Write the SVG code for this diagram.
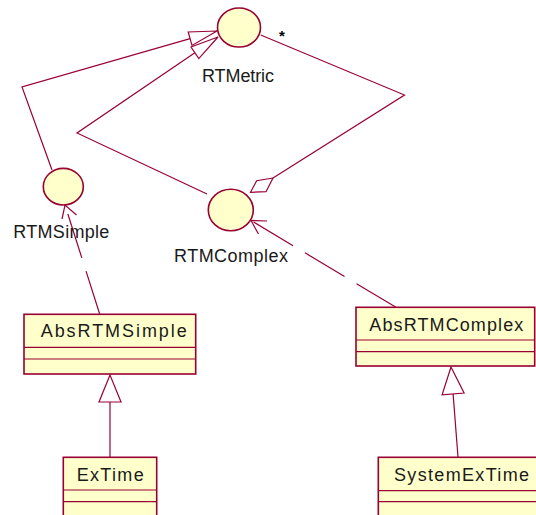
<svg xmlns="http://www.w3.org/2000/svg" width="536" height="515" viewBox="0 0 536 515">
<style>
.ln{fill:none;stroke:#990033;stroke-width:1.2}
.dash{fill:none;stroke:#990033;stroke-width:1.2;stroke-dasharray:46 14}
.hollow{fill:#ffffff;stroke:#990033;stroke-width:1.2}
.iface{fill:#ffffcc;stroke:#990033;stroke-width:1.6}
.box{fill:#ffffcc;stroke:#990033;stroke-width:1.6}
.sep{stroke:#990033;stroke-width:1.2}
.t{font-family:"Liberation Sans",Arial,sans-serif;font-size:18px;fill:#1a1a1a}
.m{font-family:"Liberation Sans",Arial,sans-serif;font-size:15px;font-weight:bold;fill:#000000}
</style>
<rect width="536" height="515" fill="#ffffff"/>
<g id="connectors">
  <polyline class="ln" points="52,170 22,87 190.1,38.7"/>
  <polygon class="hollow" points="217,31 188.2,32 192,45.4"/>
  <polyline class="ln" points="207,194 77,133 194.9,52.8"/>
  <polygon class="hollow" points="218,37 191,47 198.8,58.6"/>
  <polyline class="ln" points="260.7,35 404.5,95 273,178"/>
  <polygon class="hollow" points="273,178 256.7,180.7 250.5,192.3 266,191.7"/>
  <text class="m" x="279" y="41">*</text>
  <line class="dash" x1="100" y1="315" x2="65" y2="205"/>
  <polyline class="ln" points="62,219 65,205 76.5,215"/>
  <line class="dash" x1="396" y1="307.3" x2="251" y2="220.5"/>
  <polyline class="ln" points="258.5,234 251,220.5 267,221"/>
  <line class="ln" x1="110" y1="402" x2="110" y2="457"/>
  <polygon class="hollow" points="110,375 99,402 121,402"/>
  <line class="ln" x1="453.1" y1="393.9" x2="458" y2="457"/>
  <polygon class="hollow" points="451,367 442.1,394.8 464.1,393"/>
</g>
<g id="RTMetric">
  <ellipse class="iface" cx="239" cy="27.5" rx="21.5" ry="19.5"/>
  <text class="t" x="202" y="82" textLength="72" lengthAdjust="spacing">RTMetric</text>
</g>
<g id="RTMSimple">
  <ellipse class="iface" cx="63.3" cy="186.7" rx="20" ry="18.3"/>
  <text class="t" x="13.3" y="237.5" textLength="96" lengthAdjust="spacing">RTMSimple</text>
</g>
<g id="RTMComplex">
  <ellipse class="iface" cx="230.8" cy="210" rx="22.5" ry="20.8"/>
  <text class="t" x="174" y="262" textLength="114" lengthAdjust="spacing">RTMComplex</text>
</g>
<g id="AbsRTMSimple">
  <rect class="box" x="24" y="314.3" width="171.7" height="59.7"/>
  <line class="sep" x1="24" y1="347.3" x2="195.7" y2="347.3"/>
  <line class="sep" x1="24" y1="359" x2="195.7" y2="359"/>
  <text class="t" x="40.7" y="337" textLength="146" lengthAdjust="spacing">AbsRTMSimple</text>
</g>
<g id="AbsRTMComplex">
  <rect class="box" x="356" y="307.3" width="178.7" height="58.7"/>
  <line class="sep" x1="356" y1="340" x2="534.7" y2="340"/>
  <line class="sep" x1="356" y1="351.7" x2="534.7" y2="351.7"/>
  <text class="t" x="369.3" y="330.7" textLength="154" lengthAdjust="spacing">AbsRTMComplex</text>
</g>
<g id="ExTime">
  <rect class="box" x="63.3" y="457.3" width="93.4" height="70"/>
  <line class="sep" x1="63.3" y1="490" x2="156.7" y2="490"/>
  <line class="sep" x1="63.3" y1="501.7" x2="156.7" y2="501.7"/>
  <text class="t" x="76.7" y="480.7" textLength="67" lengthAdjust="spacing">ExTime</text>
</g>
<g id="SystemExTime">
  <rect class="box" x="378.3" y="457.3" width="170" height="70"/>
  <line class="sep" x1="378.3" y1="490.7" x2="548" y2="490.7"/>
  <line class="sep" x1="378.3" y1="501.7" x2="548" y2="501.7"/>
  <text class="t" x="394" y="480.7" textLength="135" lengthAdjust="spacing">SystemExTime</text>
</g>
</svg>
